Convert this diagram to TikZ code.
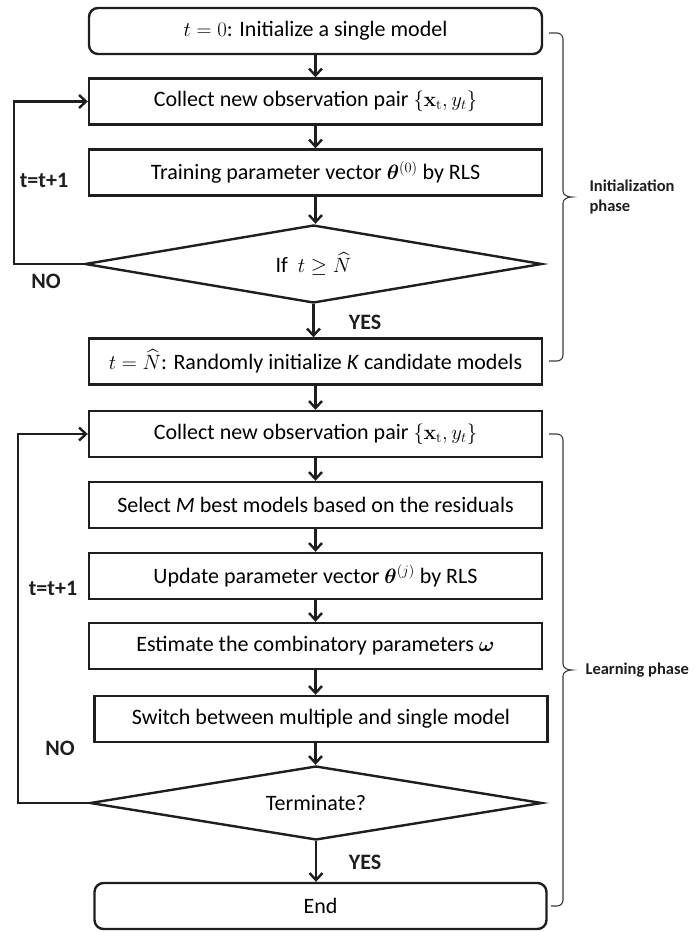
\documentclass[tikz,border=0pt]{standalone}
\usepackage{amsmath,bm}
\usepackage[no-math]{fontspec}
\setmainfont{Carlito}
\usetikzlibrary{arrows.meta,shapes.geometric}
\definecolor{ink}{HTML}{1E1E1E}
\definecolor{bracecol}{HTML}{3A3A3A}

\begin{document}
\begin{tikzpicture}[x=1pt,y=-1pt,
  txt/.style={font=\fontsize{22}{26}\selectfont},
  proc/.style={txt,draw=ink,line width=2.4pt,minimum width=453pt,minimum height=46pt,inner sep=0pt},
  term/.style={proc,rounded corners=9pt},
  decide/.style={txt,draw=ink,line width=2.4pt,shape=diamond,shape aspect=6,inner sep=0pt},
  flow/.style={draw=ink,line width=2.4pt,-{Straight Barb[length=7pt,width=13pt]}},
  lbl/.style={font=\fontsize{22}{26}\selectfont\bfseries,text=ink},
  phaselbl/.style={font=\fontsize{16.5}{20}\selectfont\bfseries,text=ink,align=left,anchor=west},
  bracket/.style={draw=bracecol,line width=1.1pt}]

\path[use as bounding box] (0,0) rectangle (694,932);

% initialization phase
\node[term]  (b1) at (315.5,31)    {$t=0$: Initialize a single model};
\node[proc]  (b2) at (315.5,101.5) {Collect new observation pair $\{\mathbf{x}_{\mathrm{t}},y_t\}$};
\node[proc]  (b3) at (315.5,172.5) {Training parameter vector $\bm{\theta}^{(0)}$ by RLS};
\node[decide,minimum width=457pt,minimum height=78pt] (d1) at (313.5,264) {If~ $t\geq\widehat{N}$};
\node[proc]  (b4) at (315.5,361.5) {$t=\widehat{N}$: Randomly initialize \textit{K} candidate models};

% learning phase
\node[proc]  (b5) at (315.5,434) {Collect new observation pair $\{\mathbf{x}_{\mathrm{t}},y_t\}$};
\node[proc]  (b6) at (315.5,505) {Select \textit{M} best models based on the residuals};
\node[proc]  (b7) at (315.5,576) {Update parameter vector $\bm{\theta}^{(j)}$ by RLS};
\node[proc]  (b8) at (315.5,646) {Estimate the combinatory parameters $\bm{\omega}$};
\node[proc,minimum width=453pt] (b9) at (321,719) {Switch between multiple and single model};
\node[decide,minimum width=452pt,minimum height=74pt] (d2) at (316,803) {Terminate?};
\node[term,minimum width=452pt] (b10) at (320.5,906) {End};

% main flow
\draw[flow] (b1) -- (b1.south |- b2.north);
\draw[flow] (b2) -- (b2.south |- b3.north);
\draw[flow] (b3) -- (b3.south |- d1.north);
\draw[flow] (d1.south) -- (d1.south |- b4.north);
\draw[flow] (b4) -- (b4.south |- b5.north);
\draw[flow] (b5) -- (b5.south |- b6.north);
\draw[flow] (b6) -- (b6.south |- b7.north);
\draw[flow] (b7) -- (b7.south |- b8.north);
\draw[flow] (b8.south) -- (b8.south |- b9.north);
\draw[flow] (b8.south |- b9.south) -- (b8.south |- d2.north);
\draw[flow] (d2.south) -- (d2.south |- b10.north);

% feedback loops
\coordinate (loopA) at (14,264);
\coordinate (loopB) at (18,803);
\draw[flow] (d1.west) -- (loopA) |- (b2.west);
\draw[flow] (d2.west) -- (d2.west -| loopB) |- (b5.west);

\node[lbl] (tA)  at (44,180) {t=t+1};
\node[lbl] (noA) at (46,281) {NO};
\node[lbl] (yA)  at (365,322) {YES};
\node[lbl] (tB)  at (53,588) {t=t+1};
\node[lbl] (noB) at (60,748) {NO};
\node[lbl] (yB)  at (365,862) {YES};

% phase brackets
\draw[bracket] (549,33) -- (557,33) to[out=0,in=90] (563,39) -- (563,191)
  to[out=-90,in=180] (572,197) to[out=180,in=90] (563,203) -- (563,355)
  to[out=-90,in=0] (557,361) -- (549,361);
\node[phaselbl] (initlbl) at (586,197) {Initialization\\phase};

\draw[bracket] (549,434) -- (557,434) to[out=0,in=90] (563,440) -- (563,664)
  to[out=-90,in=180] (572,670) to[out=180,in=90] (563,676) -- (563,900)
  to[out=-90,in=0] (557,906) -- (551,906);
\node[phaselbl] (learnlbl) at (582,670) {Learning phase};
\end{tikzpicture}
\end{document}
